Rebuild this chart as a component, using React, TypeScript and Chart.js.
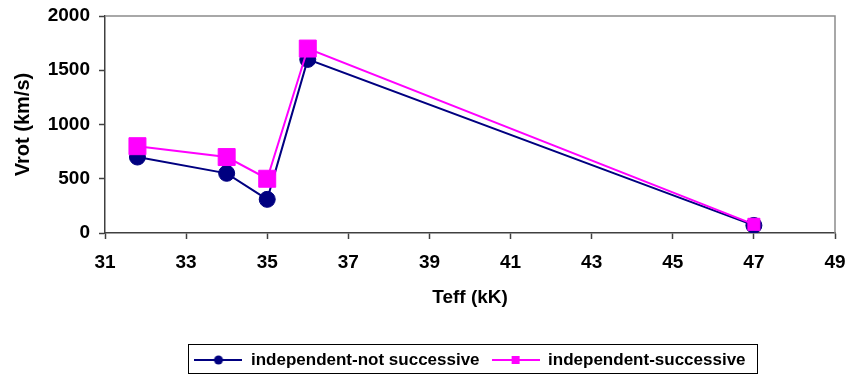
import React, { useEffect, useRef } from "react";
import { Chart, registerables } from "chart.js";

Chart.register(...registerables);

// ---- data ----
const teffKK = [31.8, 34, 35, 36, 47];
const vrotNotSuccessive = [700, 550, 310, 1600, 70];
const vrotSuccessive = [800, 700, 500, 1700, 80];
const seriesNames = ["independent-not successive", "independent-successive"];
const xAxisTitle = "Teff (kK)";
const yAxisTitle = "Vrot (km/s)";
const xTickRange = { min: 31, max: 49, step: 2 };
const yTickRange = { min: 0, max: 2000, step: 500 };

const NAVY = "#000080";
const MAGENTA = "#FF00FF";
const AXIS = "#404040";
const FONT = "'Liberation Sans', Arial, Helvetica, sans-serif";

function legendSymbol(color: string, marker: "circle" | "square") {
  const c = document.createElement("canvas");
  c.width = 48;
  c.height = 14;
  const g = c.getContext("2d")!;
  g.strokeStyle = color;
  g.lineWidth = 2;
  g.beginPath();
  g.moveTo(0, 7);
  g.lineTo(48, 7);
  g.stroke();
  g.fillStyle = color;
  if (marker === "circle") {
    g.beginPath();
    g.arc(24, 7, 4.5, 0, Math.PI * 2);
    g.fill();
  } else {
    g.fillRect(20, 3, 8, 8);
  }
  return c;
}

const frameLines = {
  id: "frameLines",
  beforeDatasetsDraw(chart: any) {
    const { ctx, chartArea: a } = chart;
    ctx.save();
    ctx.strokeStyle = "#8c8c8c";
    ctx.lineWidth = 1.5;
    ctx.beginPath();
    ctx.moveTo(a.left, a.top);
    ctx.lineTo(a.right, a.top);
    ctx.lineTo(a.right, a.bottom);
    ctx.stroke();
    ctx.restore();
  },
};

const legendFrame = {
  id: "legendFrame",
  afterDraw(chart: any) {
    const lg = chart.legend;
    if (!lg || !lg.legendHitBoxes || !lg.legendHitBoxes.length) return;
    const hb = lg.legendHitBoxes;
    const first = hb[0];
    const last = hb[hb.length - 1];
    const left = first.left - 6;
    const right = last.left + last.width + 12;
    const top = first.top - 7.5;
    const bottom = first.top + first.height + 4.5;
    const { ctx } = chart;
    ctx.save();
    ctx.strokeStyle = "#000000";
    ctx.lineWidth = 1;
    ctx.strokeRect(Math.round(left) + 0.5, Math.round(top) + 0.5, Math.round(right - left), Math.round(bottom - top));
    ctx.restore();
  },
};

export default function App() {
  const ref = useRef<HTMLCanvasElement | null>(null);

  useEffect(() => {
    if (!ref.current) return;
    const symbols = [legendSymbol(NAVY, "circle"), legendSymbol(MAGENTA, "square")];
    const chart = new Chart(ref.current, {
      type: "line",
      data: {
        datasets: [
          {
            label: seriesNames[0],
            data: teffKK.map((x, i) => ({ x, y: vrotNotSuccessive[i] })),
            borderColor: NAVY,
            backgroundColor: NAVY,
            borderWidth: 2,
            pointStyle: "circle",
            pointRadius: 8,
            pointBorderWidth: 1,
            pointBackgroundColor: NAVY,
            pointBorderColor: NAVY,
            order: 1,
          },
          {
            label: seriesNames[1],
            data: teffKK.map((x, i) => ({ x, y: vrotSuccessive[i] })),
            borderColor: MAGENTA,
            backgroundColor: MAGENTA,
            borderWidth: 2,
            pointStyle: "rect",
            pointRadius: [12, 12, 12, 12, 8.5],
            pointBorderWidth: 1,
            pointBackgroundColor: MAGENTA,
            pointBorderColor: MAGENTA,
            order: 0,
          },
        ],
      },
      options: {
        responsive: false,
        animation: false,
        devicePixelRatio: 1,
        layout: { padding: { top: 0, right: 0, left: 0, bottom: -4.5 } },
        plugins: {
          tooltip: { enabled: false },
          legend: {
            display: true,
            position: "bottom",
            fullSize: false,
            labels: {
              usePointStyle: true,
              pointStyleWidth: 48,
              padding: 12,
              color: "#000",
              font: { family: FONT, size: 17, weight: "bold" },
              generateLabels: () =>
                seriesNames.map((name, i) => ({
                  text: name,
                  pointStyle: symbols[i],
                  fillStyle: i === 0 ? NAVY : MAGENTA,
                  strokeStyle: i === 0 ? NAVY : MAGENTA,
                  lineWidth: 0,
                  hidden: false,
                  datasetIndex: i,
                  fontColor: "#000",
                })),
            },
          },
        },
        scales: {
          x: {
            type: "linear",
            min: xTickRange.min,
            max: xTickRange.max,
            afterFit: (s: any) => {
              s.height = 106.5;
              s.paddingRight = 12;
            },
            ticks: {
              stepSize: xTickRange.step,
              color: "#000",
              padding: 12,
              font: { family: FONT, size: 19, weight: "bold" },
              callback: (v: any) => String(v),
            },
            grid: {
              display: true,
              drawOnChartArea: false,
              drawTicks: true,
              tickLength: 6,
              tickColor: AXIS,
              tickWidth: 1.5,
            },
            border: { display: true, color: AXIS, width: 1.5 },
            title: {
              display: true,
              text: xAxisTitle,
              color: "#000",
              font: { family: FONT, size: 19, weight: "bold" },
              padding: { top: 0, bottom: 30 },
            },
          },
          y: {
            type: "linear",
            min: yTickRange.min,
            max: yTickRange.max,
            afterFit: (s: any) => {
              s.width = 105;
              s.paddingTop = 16;
            },
            ticks: {
              stepSize: yTickRange.step,
              color: "#000",
              padding: 9,
              font: { family: FONT, size: 19, weight: "bold" },
              callback: (v: any) => String(v),
            },
            grid: {
              display: true,
              drawOnChartArea: false,
              drawTicks: true,
              tickLength: 6,
              tickColor: AXIS,
              tickWidth: 1.5,
            },
            border: { display: true, color: AXIS, width: 1.5 },
            title: {
              display: true,
              text: yAxisTitle,
              color: "#000",
              font: { family: FONT, size: 20, weight: "bold" },
              padding: { top: 11, bottom: 0 },
            },
          },
        },
      },
      plugins: [frameLines, legendFrame],
    });
    return () => chart.destroy();
  }, []);

  return (
    <div style={{ position: "fixed", left: 0, top: 0, width: 848, height: 374, background: "#fff" }}>
      <canvas ref={ref} width={848} height={374} />
    </div>
  );
}
